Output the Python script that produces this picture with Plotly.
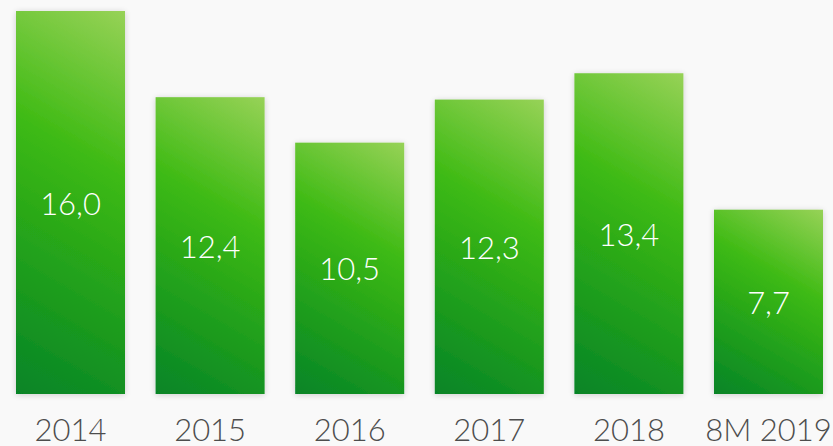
import base64
import math
import plotly.graph_objects as go

# Annual values (comma-decimal labels)
categories = ["2014", "2015", "2016", "2017", "2018", "8M 2019"]
values = [16.0, 12.4, 10.5, 12.3, 13.4, 7.7]

BG = "#f9f9f9"
FONT = "Lato"

# Layout geometry
W_FIG, H_FIG = 833, 446
M_B = 40
PX_PER_X = 139.6          # pixels per category step
X0_PX = 70.5              # pixel centre of first category
PX_PER_Y = 23.9375        # pixels per unit on the value axis
Y_TOP_PAD = 11            # pixels above the tallest bar
BAR_W_PX = 109
SHADOW_PAD = 10

plot_h = H_FIG - M_B
ymax = max(values) + Y_TOP_PAD / PX_PER_Y
ymin = ymax - plot_h / PX_PER_Y
xmin = -X0_PX / PX_PER_X
xmax = xmin + W_FIG / PX_PER_X
bar_width = BAR_W_PX / PX_PER_X


def gradient_bar_svg(w, h, p):
    """SVG of a bar with a 30deg linear gradient and a soft drop shadow."""
    a = math.radians(30)
    dx, dy = math.sin(a), -math.cos(a)
    half = (w * abs(dx) + h * abs(dy)) / 2
    cx, cy = p + w / 2, p + h / 2
    x1, y1 = cx - dx * half, cy - dy * half
    x2, y2 = cx + dx * half, cy + dy * half
    tw, th = w + 2 * p, h + 2 * p
    svg = f'''<svg xmlns="http://www.w3.org/2000/svg" width="{tw:.2f}" height="{th:.2f}" viewBox="0 0 {tw:.2f} {th:.2f}" preserveAspectRatio="none">
<defs>
<linearGradient id="g" gradientUnits="userSpaceOnUse" x1="{x1:.2f}" y1="{y1:.2f}" x2="{x2:.2f}" y2="{y2:.2f}">
<stop offset="0" stop-color="#068428"/>
<stop offset="0.3" stop-color="#1f9e1c"/>
<stop offset="0.62" stop-color="#3dba13"/>
<stop offset="1" stop-color="#97d257"/>
</linearGradient>
<filter id="s" x="-50%" y="-50%" width="200%" height="200%">
<feGaussianBlur in="SourceAlpha" stdDeviation="3"/>
<feOffset dx="0" dy="1" result="b"/>
<feComponentTransfer><feFuncA type="linear" slope="0.18"/></feComponentTransfer>
<feMerge><feMergeNode/><feMergeNode in="SourceGraphic"/></feMerge>
</filter>
</defs>
<rect x="{p}" y="{p}" width="{w:.2f}" height="{h:.2f}" fill="url(#g)" filter="url(#s)"/>
</svg>'''
    return "data:image/svg+xml;base64," + base64.b64encode(svg.encode()).decode()


images = []
for i, v in enumerate(values):
    h_px = v * PX_PER_Y
    src = gradient_bar_svg(BAR_W_PX, h_px, SHADOW_PAD)
    images.append(dict(
        source=src, xref="x", yref="y",
        x=i - (BAR_W_PX / 2 + SHADOW_PAD) / PX_PER_X,
        y=v + SHADOW_PAD / PX_PER_Y,
        sizex=(BAR_W_PX + 2 * SHADOW_PAD) / PX_PER_X,
        sizey=(h_px + 2 * SHADOW_PAD) / PX_PER_Y,
        xanchor="left", yanchor="top", sizing="stretch", layer="below",
    ))

fig = go.Figure(go.Bar(
    x=list(range(len(categories))), y=values, width=bar_width,
    marker=dict(color="rgba(0,0,0,0)", line=dict(width=0)),
    texttemplate="%{y:.1f}", textposition="inside", insidetextanchor="middle",
    textfont=dict(family=FONT, size=31, color="white", weight=300),
    cliponaxis=False, hoverinfo="skip",
))

fig.update_layout(
    width=W_FIG, height=H_FIG,
    margin=dict(l=0, r=0, t=0, b=M_B, autoexpand=False),
    paper_bgcolor=BG, plot_bgcolor=BG,
    separators=",.",
    showlegend=False,
    images=images,
    uniformtext=dict(minsize=31, mode="show"),
)
fig.update_xaxes(
    range=[xmin, xmax], tickmode="array", automargin=False,
    tickvals=list(range(len(categories))), ticktext=categories,
    showgrid=False, zeroline=False, showline=False, ticks="",
    ticklabelstandoff=3,
    tickfont=dict(family=FONT, size=31, color="#4d4d4d", weight=300),
)
fig.update_yaxes(range=[ymin, ymax], visible=False, automargin=False)

fig.write_html("out.html")
